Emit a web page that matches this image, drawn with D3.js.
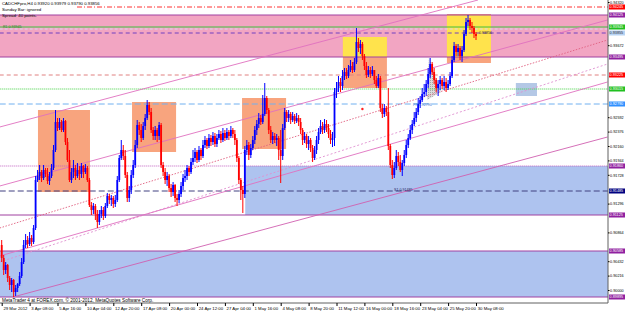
<!DOCTYPE html>
<html><head><meta charset="utf-8">
<script src="https://cdn.jsdelivr.net/npm/d3@7"></script>
<style>html,body{margin:0;padding:0;background:#fff;overflow:hidden}</style>
</head><body>
<svg id="c" width="625" height="313"></svg>
<script>
// ---------------- DATA ----------------
const timeBars = [0,14,28,42,56,70,84,98,112,126,140,154,168,182,196,210,224,238];
const timeLabels = ["29 Mar 2012","3 Apr 08:00","5 Apr 16:00","10 Apr 04:00","12 Apr 20:00","17 Apr 08:00","20 Apr 00:00","24 Apr 12:00","27 Apr 04:00","1 May 16:00","4 May 08:00","8 May 20:00","11 May 12:00","16 May 00:00","18 May 16:00","23 May 04:00","25 May 20:00","30 May 08:00"];
const priceTicks = [0.94320,0.94104,0.93888,0.93672,0.93456,0.93240,0.93024,0.92808,0.92592,0.92376,0.92160,0.91944,0.91728,0.91512,0.91296,0.91080,0.90864,0.90648,0.90432,0.90216,0.90000];
const firstOpen = .90675;
const close = [
.9048,.903,.90375,.9018,.90075,.9015,.8997,.9003,.9009,.9021,
.9042,.90675,.9075,.9069,.9078,.9072,.9093,.9165,.9171,.9177,
.9168,.918,.9174,.91635,.9171,.9183,.921,.9252,.9243,.9252,
.924,.92535,.9222,.9195,.9165,.9177,.9183,.9171,.918,.9174,
.9186,.9177,.9183,.9165,.91275,.912,.9126,.9114,.9102,.9114,
.912,.9111,.9126,.9141,.9135,.9138,.9129,.9135,.9165,.9198,
.921,.9201,.91725,.9138,.915,.91725,.91875,.92175,.92475,.924,
.9228,.9246,.9258,.92775,.9267,.924,.9231,.924,.9231,.92475,
.91875,.9177,.9165,.9171,.9153,.9147,.91575,.9138,.9135,.9144,
.9156,.9168,.9171,.9183,.9177,.9192,.9198,.9207,.9195,.921,
.9201,.92175,.9225,.9216,.9228,.9222,.9231,.9219,.9228,.9234,
.9225,.92355,.9228,.9237,.9231,.924,.9234,.9225,.9198,.9165,
.915,.9144,.921,.92175,.92025,.9213,.9225,.924,.9249,.9258,
.9252,.9264,.9288,.927,.924,.9225,.9231,.9225,.9228,.921,
.9201,.9243,.9267,.9258,.9264,.9255,.9261,.92535,.9258,.9252,
.924,.9225,.9231,.9219,.9225,.9213,.9198,.921,.9225,.9237,
.9246,.924,.9249,.9243,.9234,.9225,.9228,.9297,.9303,.9312,
.9306,.9321,.9327,.9321,.933,.9336,.933,.9342,.9372,.9363,
.9369,.9351,.9336,.93225,.933,.9324,.933,.9315,.9306,.9318,
.9273,.9264,.9273,.9267,.9216,.91875,.91725,.9183,.9201,.9192,
.918,.91905,.92025,.92175,.9228,.924,.9249,.9258,.9267,.9279,
.9285,.9294,.9297,.9309,.9324,.9339,.9327,.9315,.9303,.9309,
.9315,.9306,.9312,.9303,.9309,.9321,.9345,.9366,.9357,.9363,
.9351,.936,.9384,.9402,.9405,.9396,.9393,.9384,.9381];
const high = [
.9075,.90525,.9042,.9039,.9021,.9018,.90165,.90075,.90105,.9027,
.9048,.9075,.9084,.9081,.9087,.90825,.90975,.9171,.918,.91875,
.918,.91875,.9183,.9183,.9177,.9189,.92175,.927,.9258,.9258,
.9255,.9258,.9255,.9228,.921,.9183,.9195,.91875,.91905,.9186,
.91905,.91875,.9189,.9186,.9168,.9132,.91305,.9129,.912,.912,
.9126,.91245,.91305,.91455,.9144,.91425,.9141,.91425,.9171,.92025,
.9225,.92175,.921,.9177,.9156,.918,.9195,.9225,.9255,.9252,
.9249,.9252,.9264,.9285,.9282,.9273,.92445,.9246,.9243,.9252,
.92505,.9192,.9183,.9177,.9174,.9159,.9162,.9159,.9144,.915,
.9162,.9174,.918,.91875,.9186,.9198,.921,.9213,.921,.9216,
.9213,.9225,.9231,.9228,.9234,.92325,.9237,.92355,.9234,.924,
.92385,.9243,.924,.9243,.924,.9246,.9243,.924,.9228,.9201,
.9168,.9156,.9216,.9225,.9222,.9219,.9231,.9246,.9255,.92655,
.92625,.92925,.93105,.9291,.9273,.9246,.9237,.92355,.9234,.9231,
.924,.9249,.9273,.927,.927,.9267,.9267,.9264,.92655,.92625,
.9258,.9243,.9237,.9234,.9231,.9228,.92175,.9216,.9231,.9243,
.9255,.9252,.92565,.9255,.9249,.924,.9237,.9303,.9312,.9321,
.9318,.933,.9333,.9333,.93375,.9345,.9342,.9348,.9393,.9378,
.9375,.9372,.9354,.9342,.9336,.93345,.9336,.933,.9321,.9324,
.9321,.9279,.9279,.9276,.9303,.9219,.9195,.9192,.921,.9207,
.92025,.9195,.921,.9225,.9234,.92475,.9255,.9267,.9273,.9288,
.9291,.9303,.9309,.9315,.9333,.9348,.9342,.9333,.9318,.9315,
.9321,.9318,.9321,.9318,.9315,.9327,.9351,.9372,.9369,.9369,
.9366,.9366,.939,.9408,.94125,.9408,.9402,.9396,.9387];
const low = [
.9042,.90225,.9024,.9012,.9,.8997,.89895,.8991,.8997,.9006,
.9018,.9039,.9063,.9063,.9066,.9066,.9069,.909,.9162,.9165,
.9162,.9165,.91695,.9159,.91575,.9168,.918,.9207,.92385,.924,
.9237,.9237,.92175,.9192,.9162,.91605,.9168,.9165,.9168,.9165,
.9168,.9168,.9174,.9162,.91245,.91125,.9114,.9105,.9093,.90975,
.9108,.9105,.9108,.9123,.9129,.9126,.9123,.91245,.9132,.9162,
.9195,.9195,.9168,.9132,.9132,.9144,.9168,.9183,.9213,.92325,
.9222,.9225,.924,.9255,.92625,.92355,.9225,.9225,.9222,.9225,
.9183,.9171,.9159,.9156,.9147,.91395,.9141,.9132,.9126,.91305,
.91395,.915,.9162,.9165,.9171,.9174,.91875,.9192,.91905,.9192,
.9195,.9198,.9213,.92115,.9213,.9216,.92175,.92145,.92145,.9225,
.92205,.9222,.92235,.9225,.9225,.9228,.9228,.92175,.9192,.9159,
.9135,.91155,.9138,.92025,.9195,.9198,.921,.9219,.92325,.9243,
.92475,.9249,.9261,.9264,.9234,.92205,.9219,.92205,.9216,.9195,
.91605,.9195,.924,.9252,.9252,.9249,.9252,.9249,.92505,.9246,
.9234,.92175,.92205,.9213,.921,.9207,.9192,.9195,.9204,.9219,
.9234,.9234,.92355,.9237,.9228,.9219,.92145,.9216,.9288,.9297,
.9297,.93,.9315,.93165,.9318,.9327,.93255,.9327,.9339,.9357,
.9354,.9345,.933,.9318,.93195,.9318,.9321,.9309,.9303,.9303,
.9267,.9258,.92595,.9261,.921,.9183,.91665,.9168,.918,.9186,
.9177,.9171,.9186,.9198,.9213,.9225,.9234,.9246,.9252,.92625,
.9273,.9282,.92895,.9291,.9303,.9318,.93225,.9309,.9297,.9291,
.93,.93015,.93,.9297,.93,.9306,.9318,.9342,.9351,.9351,
.9345,.9342,.9357,.9381,.9396,.939,.93855,.9378,.9375];

// zones: [startBar, topPrice, bottomPrice]
const bands = [[-1,0.94125,0.93495],[122.2,0.91860,0.91125],[-1,0.90585,0.89895]];
// boxes: [bar0, bar1, topPrice, bottomPrice]
const boxes = [[18.2,44.3,0.92700,0.91470],[65.4,87.5,0.92820,0.92070],[120.6,142.7,0.92880,0.92115],[171.2,193.3,0.93795,0.93030],[223.4,245.5,0.94140,0.93405]];
const smallBox = [258,268.6,0.93105,0.92910];
const triangle = [[214.4,0.93495],[220.4,0.92970],[213.4,0.92850]];
// horizontal levels
const levels = [0.94245,0.94125,0.93945,0.93915,0.93855,0.93495,0.93225,0.93015,0.92790,0.91860,0.91485,0.91125,0.90585,0.89895];
// trend lines: [bar0, price0, bar1, price1]
const trends = [
 [-1,0.92445,239,0.94350],
 [-1,0.91560,304,0.94050],
 [-1,0.90930,304,0.93750],
 [-1,0.90420,304,0.93390],
 [-1,0.90510,304,0.93120],
 [5.7,0.89895,304,0.92295]];
const marker = [181,0.92715];

// ---------------- DRAW ----------------
const svg = d3.select('#c');
const plotR = 608, plotB = 303;
const x = d3.scaleLinear().domain([0,238]).range([1.7,476]);
const y = d3.scaleLinear().domain([0.8985,0.9435]).range([300,0]);
const xEnd = x.invert(plotR);
const FS = 4.3, AFS = 3.75;
const font = 'Liberation Sans, Arial, sans-serif';

const defs = svg.append('defs');
defs.append('clipPath').attr('id','clip').append('rect').attr('width',plotR).attr('height',plotB);
const tp = defs.append('pattern').attr('id','grayP').attr('width',2).attr('height',2).attr('patternUnits','userSpaceOnUse');
tp.append('rect').attr('width',2).attr('height',2).attr('fill','#dcdcdc');
tp.append('rect').attr('width',1).attr('height',1).attr('fill','#a8a8a8');

svg.append('rect').attr('width',625).attr('height',313).attr('fill','#fff');
const g = svg.append('g').attr('clip-path','url(#clip)');

const bandFill = ['#f2a5c2','#aec3ef','#aec3ef'];
bands.forEach((b,i)=>{
  g.append('rect').attr('x',x(b[0])).attr('width',x(xEnd+2)-x(b[0]))
   .attr('y',y(b[1])).attr('height',y(b[2])-y(b[1])).attr('fill',bandFill[i]);
});
const pink = bands[0];
boxes.forEach(b=>{
  g.append('rect').attr('x',x(b[0])).attr('width',x(b[1])-x(b[0]))
   .attr('y',y(b[2])).attr('height',y(b[3])-y(b[2])).attr('fill','#f8a47e');
  const top = Math.min(b[2],pink[1]), bot = Math.max(b[3],pink[2]);
  if (top>bot) g.append('rect').attr('x',x(b[0])).attr('width',x(b[1])-x(b[0]))
   .attr('y',y(top)).attr('height',y(bot)-y(top)).attr('fill','#ffe34c');
});
g.append('rect').attr('x',x(smallBox[0])).attr('width',x(smallBox[1])-x(smallBox[0]))
 .attr('y',y(smallBox[2])).attr('height',y(smallBox[3])-y(smallBox[2])).attr('fill','#b4c8e6');
g.append('path').attr('d',d3.line().x(d=>x(d[0])).y(d=>y(d[1]))(triangle)+'Z').attr('fill','url(#grayP)');

const levelStyle = [
 {c:'#ff3030',d:'5,2,1,2',from:37.8,lab:'#ff0000',t:'#fff'},
 {c:'#a040a0',d:null,lab:'#9020a0',t:'#fff'},
 {c:'#40c040',d:null,lab:'#20c020',t:'#fff'},
 {c:'#d8d8f0',d:'3,2',lab:null},
 {c:'#7040c0',d:'4,3',lab:'#b8d4f4',t:'#333'},
 {c:'#a040a0',d:null,lab:'#9020a0',t:'#fff'},
 {c:'#e08080',d:'4,3',lab:'#ff0000',t:'#fff'},
 {c:'#40d040',d:'1,1',lab:'#20c020',t:'#fff'},
 {c:'#70b0f0',d:'6,3',lab:'#3090ff',t:'#fff'},
 {c:'#c060c0',d:'1,1',lab:'#9020a0',t:'#fff'},
 {c:'#404080',d:'6,3',lab:'#000080',t:'#fff'},
 {c:'#a040a0',d:null,lab:'#9020a0',t:'#fff'},
 {c:'#a040a0',d:null,lab:'#9020a0',t:'#fff'},
 {c:'#a040a0',d:null,lab:'#9020a0',t:'#fff'}];
levels.forEach((p,i)=>{
  const s = levelStyle[i];
  g.append('line').attr('x1',x(s.from!==undefined?s.from:-1)).attr('x2',plotR).attr('y1',y(p)).attr('y2',y(p))
   .attr('stroke',s.c).attr('stroke-width',1).attr('stroke-dasharray',s.d);
});

const trendStyle = [
 {c:'#e070c0',d:null},{c:'#e070c0',d:null},{c:'#e06080',d:'1.5,1.5'},
 {c:'#e090d0',d:'2,2'},{c:'#e070c0',d:null},{c:'#d060b0',d:null}];
trends.forEach((t,i)=>{
  g.append('line').attr('x1',x(t[0])).attr('y1',y(t[1])).attr('x2',x(t[2])).attr('y2',y(t[3]))
   .attr('stroke',trendStyle[i].c).attr('stroke-width',0.9).attr('stroke-dasharray',trendStyle[i].d);
});

// candles
const bars = close.map((c,i)=>({i, o: i===0?firstOpen:close[i-1], c, h: high[i], l: low[i]}));
const cg = g.append('g');
cg.selectAll('line.w').data(bars).join('line')
  .attr('x1',d=>x(d.i)).attr('x2',d=>x(d.i)).attr('y1',d=>y(d.h)).attr('y2',d=>y(d.l))
  .attr('stroke',d=>d.c>=d.o?'#0000ff':'#ff0000').attr('stroke-width',1);
cg.selectAll('rect.b').data(bars).join('rect')
  .attr('x',d=>x(d.i)-0.9).attr('width',1.8)
  .attr('y',d=>y(Math.max(d.o,d.c))).attr('height',d=>Math.max(0.7,Math.abs(y(d.o)-y(d.c))))
  .attr('fill',d=>d.c>=d.o?'#0000ff':'#ff0000');

g.append('circle').attr('cx',x(marker[0])).attr('cy',y(marker[1])).attr('r',1.2).attr('fill','#ff2020');

// texts
function txt(px,py,s,col,sz){ svg.append('text').attr('x',px).attr('y',py).text(s).attr('fill',col||'#000').attr('font-size',sz||FS).attr('font-family',font); }
txt(2,5,'CADCHFpro,H4  0.93920 0.93979 0.93790 0.93856','#000');
txt(2,10.5,'Sunday Bar: ignored','#000');
txt(2,16.5,'Spread: 40 points.','#000');
txt(3,28,'R1 0.93945','#208020',3.6);
txt(479,33.5,'0.93856','#333',3.6);
txt(413,106,'PP 0.92790','#3070d0',3.6);
txt(394,190.5,'S1 0.91485','#202060',3.6);
txt(2,301.5,'MetaTrader 4 at FOREX.com, \u00a9 2001-2012, MetaQuotes Software Corp.','#000',4.7);

// frame
svg.append('line').attr('x1',0).attr('x2',plotR).attr('y1',plotB).attr('y2',plotB).attr('stroke','#606060').attr('stroke-width',1);
svg.append('line').attr('x1',plotR).attr('x2',plotR).attr('y1',0).attr('y2',plotB).attr('stroke','#606060').attr('stroke-width',1);

// price axis (ticks hidden under level labels are skipped)
const labelled = levels.filter((p,i)=>levelStyle[i].lab);
const visTicks = priceTicks.filter(t=>labelled.every(p=>Math.abs(y(p)-y(t))>5));
const gy = svg.append('g').attr('transform',`translate(${plotR},0)`)
  .call(d3.axisRight(y).tickValues(visTicks).tickFormat(d3.format('.5f')).tickSize(1.5).tickPadding(0.6));
gy.select('.domain').remove();
gy.selectAll('text').attr('font-size',AFS).attr('font-family',font).attr('fill','#000');
gy.selectAll('line').attr('stroke','#000');

levels.forEach((p,i)=>{
  const s = levelStyle[i]; if(!s.lab) return;
  svg.append('rect').attr('x',plotR+1).attr('y',y(p)-2.5).attr('width',16).attr('height',5).attr('fill',s.lab);
  svg.append('text').attr('x',plotR+1.6).attr('y',y(p)+1.4).text(d3.format('.5f')(p))
    .attr('fill',s.t).attr('font-size',AFS).attr('font-family',font);
});

const gx = svg.append('g').attr('transform',`translate(0,${plotB})`)
  .call(d3.axisBottom(x).tickValues(timeBars).tickFormat((d,i)=>timeLabels[i]).tickSize(3).tickPadding(0));
gx.select('.domain').remove();
gx.selectAll('line').attr('stroke','#000');
gx.selectAll('text').attr('text-anchor','start').attr('x',1.2).attr('y',3.8).attr('font-size',FS).attr('font-family',font).attr('fill','#000');
</script>
</body></html>
